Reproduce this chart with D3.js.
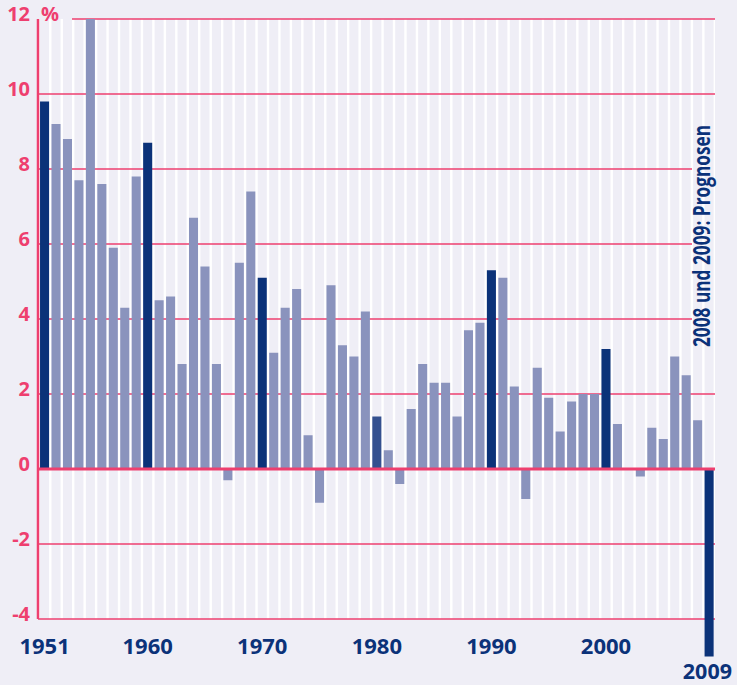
<!DOCTYPE html>
<html>
<head>
<meta charset="utf-8">
<script src="https://d3js.org/d3.v7.min.js"></script>
<style>
  body { margin: 0; background: #efeef6; }
  svg { display: block; }
  text { font-family: "Open Sans", "Noto Sans", sans-serif; font-weight: 700; }
</style>
</head>
<body>
<svg id="chart" width="737" height="685"></svg>
<script>
    // Wachstum des BIP, Veränderung gegenüber Vorjahr in %
    const years = d3.range(1951, 2010);
    const values = [
        9.8, 9.2, 8.8, 7.7, 12.0, 7.6, 5.9, 4.3, 7.8, 8.7,
        4.5, 4.6, 2.8, 6.7, 5.4, 2.8, -0.3, 5.5, 7.4, 5.1,
        3.1, 4.3, 4.8, 0.9, -0.9, 4.9, 3.3, 3.0, 4.2, 1.4,
        0.5, -0.4, 1.6, 2.8, 2.3, 2.3, 1.4, 3.7, 3.9, 5.3,
        5.1, 2.2, -0.8, 2.7, 1.9, 1.0, 1.8, 2.0, 2.0, 3.2,
        1.2, 0.0, -0.2, 1.1, 0.8, 3.0, 2.5, 1.3, -5.0
    ];
    const highlightYears = [1951, 1960, 1970, 1980, 1990, 2000, 2009];
    const yTicks = [12, 10, 8, 6, 4, 2, 0, -2, -4];
    const xLabels = [1951, 1960, 1970, 1980, 1990, 2000];
    const note = "2008 und 2009: Prognosen";

(function() {
    const data = years.map((y, i) => ({ year: y, value: values[i] }));

    const red = "#ee3f6f";
    const navy = "#0b3279";
    const light = "#8a93bd";
    const bg = "#efeef6";

    const svg = d3.select("#chart");
    const left = 39, right = 715, top = 19, bottom = 619;

    const x = d3.scaleBand().domain(years).range([left, right]).padding(0);
    const y = d3.scaleLinear().domain([-4, 12]).range([bottom, top]);
    const bw = x.bandwidth();
    const barW = bw * 0.79;
    const barOff = bw * 0.09;

    svg.append("rect").attr("width", 737).attr("height", 685).attr("fill", bg);

    // white stripes between the year columns
    svg.append("rect")
        .attr("x", left).attr("y", top)
        .attr("width", right - left).attr("height", bottom - top)
        .attr("fill", "#ffffff");
    svg.append("g").selectAll("rect")
        .data(years)
        .enter().append("rect")
        .attr("x", d => x(d) + barOff)
        .attr("y", top)
        .attr("width", barW)
        .attr("height", bottom - top)
        .attr("fill", bg);

    // gridlines (some are cut by the % label and the note)
    function gridStart(t) { return t === 12 ? 72 : 38; }
    function gridEnd(t) { return (t >= 4 && t <= 8) ? 692 : right; }
    svg.append("g").selectAll("line")
        .data(yTicks.filter(t => t !== 0))
        .enter().append("line")
        .attr("x1", d => gridStart(d))
        .attr("x2", d => gridEnd(d))
        .attr("y1", d => y(d))
        .attr("y2", d => y(d))
        .attr("stroke", red)
        .attr("stroke-width", 1.4);

    // bars
    svg.append("g").selectAll("rect")
        .data(data)
        .enter().append("rect")
        .attr("x", d => x(d.year) + barOff)
        .attr("width", barW)
        .attr("y", d => y(Math.max(0, d.value)))
        .attr("height", d => Math.abs(y(d.value) - y(0)))
        .attr("fill", d => d.year === 1980 ? "#34508f" : highlightYears.includes(d.year) ? navy : light);

    // zero line and y axis
    svg.append("line")
        .attr("x1", 38).attr("x2", right)
        .attr("y1", y(0)).attr("y2", y(0))
        .attr("stroke", red).attr("stroke-width", 3);
    svg.append("line")
        .attr("x1", 38).attr("x2", 38)
        .attr("y1", top).attr("y2", bottom)
        .attr("stroke", red).attr("stroke-width", 2.5);

    // y labels
    svg.append("g").selectAll("text")
        .data(yTicks)
        .enter().append("text")
        .attr("x", 30)
        .attr("y", d => y(d) + 2)
        .attr("text-anchor", "end")
        .attr("fill", red)
        .attr("font-size", 20)
        .text(d => d);
    svg.append("text")
        .attr("x", 41).attr("y", y(12) + 2)
        .attr("fill", red)
        .attr("font-size", 20)
        .text("%");

    // x labels
    svg.append("g").selectAll("text")
        .data(xLabels)
        .enter().append("text")
        .attr("x", d => x(d) + barOff + barW / 2)
        .attr("y", 654)
        .attr("text-anchor", "middle")
        .attr("fill", navy)
        .attr("font-size", 22)
        .text(d => d);
    svg.append("text")
        .attr("x", 732)
        .attr("y", 679)
        .attr("text-anchor", "end")
        .attr("fill", navy)
        .attr("font-size", 21.5)
        .text("2009");

    // vertical note
    svg.append("text")
        .attr("transform", "translate(710,347) rotate(-90)")
        .attr("fill", navy)
        .attr("font-size", 23)
        .attr("textLength", 222)
        .attr("lengthAdjust", "spacingAndGlyphs")
        .text(note);
})();
</script>
</body>
</html>
